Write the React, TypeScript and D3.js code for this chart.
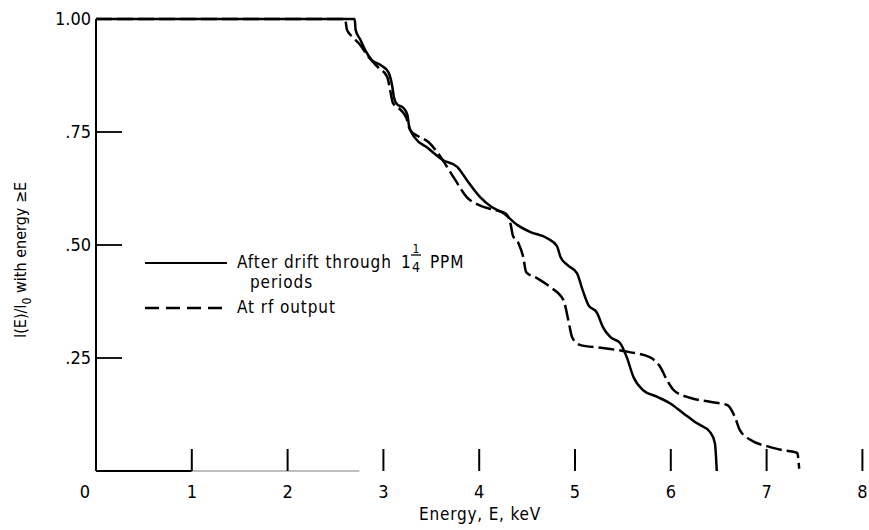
import React from "react";
import * as d3 from "d3";

// ---- data ----
const xTickValues = [0, 1, 2, 3, 4, 5, 6, 7, 8];
const xTickLabels = ["0", "1", "2", "3", "4", "5", "6", "7", "8"];
const yTickValues = [0.25, 0.5, 0.75, 1.0];
const yTickLabels = [".25", ".50", ".75", "1.00"];

// After drift through 1 1/4 PPM periods (solid)
const driftE = [0, 2.70, 2.71, 2.76, 2.81, 2.88, 2.97, 3.05, 3.09, 3.11, 3.14, 3.21, 3.25, 3.27, 3.33, 3.46, 3.62, 3.77, 3.87, 4.01, 4.13, 4.25, 4.40, 4.53, 4.71, 4.81, 4.85, 4.92, 5.02, 5.08, 5.14, 5.23, 5.29, 5.37, 5.47, 5.54, 5.61, 5.71, 5.86, 5.99, 6.13, 6.27, 6.41, 6.46, 6.48];
const driftI = [1.0, 1.0, 0.976, 0.954, 0.931, 0.909, 0.898, 0.883, 0.854, 0.827, 0.812, 0.803, 0.788, 0.761, 0.737, 0.715, 0.688, 0.673, 0.644, 0.606, 0.584, 0.571, 0.544, 0.529, 0.515, 0.498, 0.473, 0.456, 0.438, 0.400, 0.367, 0.350, 0.319, 0.296, 0.283, 0.252, 0.208, 0.179, 0.164, 0.150, 0.128, 0.106, 0.086, 0.062, 0.0];

// At rf output (dashed)
const rfE = [0, 2.60, 2.62, 2.68, 2.76, 2.83, 2.94, 3.04, 3.07, 3.10, 3.18, 3.24, 3.28, 3.36, 3.47, 3.56, 3.64, 3.75, 3.87, 4.01, 4.17, 4.28, 4.33, 4.35, 4.41, 4.46, 4.49, 4.60, 4.74, 4.88, 4.93, 4.97, 5.05, 5.29, 5.57, 5.78, 5.89, 5.96, 6.03, 6.20, 6.41, 6.59, 6.67, 6.72, 6.83, 7.00, 7.17, 7.32, 7.34];
const rfI = [1.0, 1.0, 0.976, 0.960, 0.942, 0.920, 0.894, 0.872, 0.843, 0.814, 0.799, 0.781, 0.754, 0.741, 0.728, 0.706, 0.681, 0.644, 0.606, 0.587, 0.577, 0.569, 0.544, 0.522, 0.504, 0.473, 0.440, 0.427, 0.407, 0.378, 0.334, 0.296, 0.279, 0.272, 0.263, 0.252, 0.230, 0.201, 0.179, 0.162, 0.153, 0.146, 0.119, 0.091, 0.069, 0.055, 0.046, 0.040, 0.005];

const FONT = "'DejaVu Sans Condensed', 'DejaVu Sans', sans-serif";

export default function App() {
  const W = 869;
  const H = 530;
  const x = d3.scaleLinear().domain([0, 8]).range([96, 862.4]);
  const y = d3.scaleLinear().domain([0, 1]).range([471, 19]);

  const line = d3
    .line<[number, number]>()
    .x((d) => x(d[0]))
    .y((d) => y(d[1]))
    .curve(d3.curveMonotoneX);

  const driftPts: [number, number][] = driftE.map((e, i) => [e, driftI[i]]);
  const rfPts: [number, number][] = rfE.map((e, i) => [e, rfI[i]]);

  const textStyle: React.CSSProperties = {
    fontFamily: FONT,
    fontStretch: "condensed",
  };

  return (
    <svg
      width={W}
      height={H}
      viewBox={`0 0 ${W} ${H}`}
      style={{ position: "absolute", left: 0, top: 0, background: "#fff" }}
    >
      <rect x={0} y={0} width={W} height={H} fill="#fff" />

      {/* y axis */}
      <line x1={x(0)} x2={x(0)} y1={y(1)} y2={y(0)} stroke="#000" strokeWidth={2} />
      {/* baseline */}
      <line x1={x(0)} x2={x(1)} y1={y(0)} y2={y(0)} stroke="#000" strokeWidth={2} />
      <line x1={x(1)} x2={x(2.75)} y1={y(0)} y2={y(0)} stroke="#a8a8a8" strokeWidth={1.5} />

      {/* y ticks */}
      {yTickValues.map((v, i) => (
        <g key={"yt" + i}>
          {v < 1 && (
            <line x1={x(0)} x2={x(0) + 26} y1={y(v)} y2={y(v)} stroke="#000" strokeWidth={1.8} />
          )}
          <text
            x={x(0) - 5}
            y={y(v) + 6}
            textAnchor="end"
            fontSize={18}
            style={textStyle}
            fill="#000"
          >
            {yTickLabels[i]}
          </text>
        </g>
      ))}

      {/* x ticks */}
      {xTickValues.map((v, i) => (
        <g key={"xt" + i}>
          {v > 0 && (
            <line x1={x(v)} x2={x(v)} y1={y(0) - 22} y2={y(0)} stroke="#000" strokeWidth={2} />
          )}
          <text
            x={v === 0 ? x(v) - 11 : x(v)}
            y={y(0) + 27}
            textAnchor="middle"
            fontSize={18}
            style={textStyle}
            fill="#000"
          >
            {xTickLabels[i]}
          </text>
        </g>
      ))}

      {/* axis titles */}
      <text x={480} y={520} textAnchor="middle" fontSize={17} letterSpacing={0.8} style={textStyle} fill="#000">
        Energy, E, keV
      </text>
      <text
        transform="translate(26,260) rotate(-90)"
        textAnchor="middle"
        fontSize={16}
        style={textStyle}
        fill="#000"
      >
        I(E)/I
        <tspan fontSize={12} dy={5}>0</tspan>
        <tspan dy={-5}> with energy ≥E</tspan>
      </text>

      {/* curves */}
      <path d={line(driftPts) || ""} fill="none" stroke="#000" strokeWidth={2.5} strokeLinejoin="round" />
      <path
        d={line(rfPts) || ""}
        fill="none"
        stroke="#000"
        strokeWidth={2.5}
        strokeDasharray="16,5"
        strokeLinejoin="round"
      />

      {/* legend */}
      <line x1={145} x2={227} y1={263} y2={263} stroke="#000" strokeWidth={2} />
      <text x={237} y={268} fontSize={17} letterSpacing={0.9} style={textStyle} fill="#000">
        After drift through
      </text>
      <text x={401} y={268} fontSize={17} style={textStyle} fill="#000">1</text>
      <text x={416} y={253} fontSize={12} textAnchor="middle" style={textStyle} fill="#000">1</text>
      <line x1={411} x2={421} y1={255} y2={255} stroke="#000" strokeWidth={1.3} />
      <text x={416} y={272} fontSize={14} textAnchor="middle" style={textStyle} fill="#000">4</text>
      <text x={430} y={268} fontSize={17} letterSpacing={0.9} style={textStyle} fill="#000">PPM</text>
      <text x={250} y={288} fontSize={17} letterSpacing={0.9} style={textStyle} fill="#000">periods</text>

      <line x1={145} x2={223} y1={308} y2={308} stroke="#000" strokeWidth={2.3} strokeDasharray="14,7" />
      <text x={237} y={313} fontSize={17} letterSpacing={0.9} style={textStyle} fill="#000">
        At rf output
      </text>
    </svg>
  );
}
